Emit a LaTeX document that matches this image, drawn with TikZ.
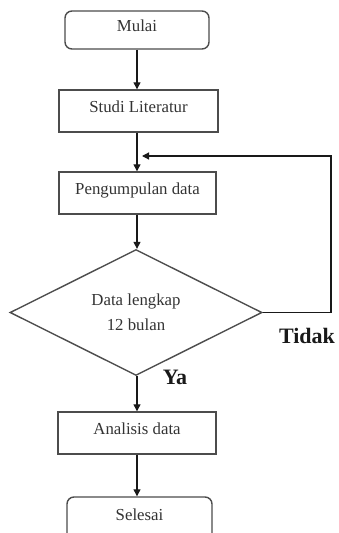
\documentclass[tikz,border=0pt]{standalone}
\usepackage{fontspec}
\setmainfont{Liberation Serif}
\usetikzlibrary{arrows.meta,shapes.geometric}
\begin{document}
\begin{tikzpicture}[x=1pt,y=-1pt,
  every node/.style={font=\fontsize{16.8}{25}\selectfont, text=black!80},
  procbox/.style={draw=black!70, line width=1.4pt, inner sep=0pt, text depth=9pt},
  termbox/.style={procbox, rounded corners=7pt},
  decbox/.style={draw=black!70, line width=1.4pt, diamond, inner sep=0pt,
    minimum width=252pt, minimum height=115pt, align=center},
  flow/.style={draw=black!90, line width=1.2pt, -{Triangle[length=7pt,width=7pt]}},
  answer/.style={font=\fontsize{22}{24}\selectfont\bfseries, text=black!90}]
\useasboundingbox (0,0) rectangle (338,533);
\node[termbox, minimum width=144pt, minimum height=38pt] (mulai) at (137,30) {Mulai};
\node[procbox, minimum width=159pt, minimum height=42pt] (studi) at (138.5,111) {Studi Literatur};
\node[procbox, minimum width=157pt, minimum height=42pt] (kumpul) at (137.5,193) {Pengumpulan data};
\node[decbox] (cek) at (136,312.5) {Data lengkap\\12 bulan};
\node[procbox, minimum width=158pt, minimum height=42pt] (analisis) at (137,433) {Analisis data};
\node[termbox, minimum width=145pt, minimum height=44pt] (selesai) at (139.5,519) {Selesai};
\node[answer] (tidak) at (307,336) {Tidak};
\node[answer] (ya) at (175,377) {Ya};
\coordinate (back) at (142,156);
\draw[flow] (mulai.south) -- (mulai.south |- studi.north);
\draw[flow] (mulai.south |- studi.south) -- (mulai.south |- kumpul.north);
\draw[flow] (mulai.south |- kumpul.south) -- (mulai.south |- cek.north);
\draw[flow] (mulai.south |- cek.south) -- (mulai.south |- analisis.north);
\draw[flow] (analisis.south) -- (analisis.south |- selesai.north);
\draw[flow] (cek.east) -- (331,312.5) -- (331,156) -- (back);
\end{tikzpicture}
\end{document}
